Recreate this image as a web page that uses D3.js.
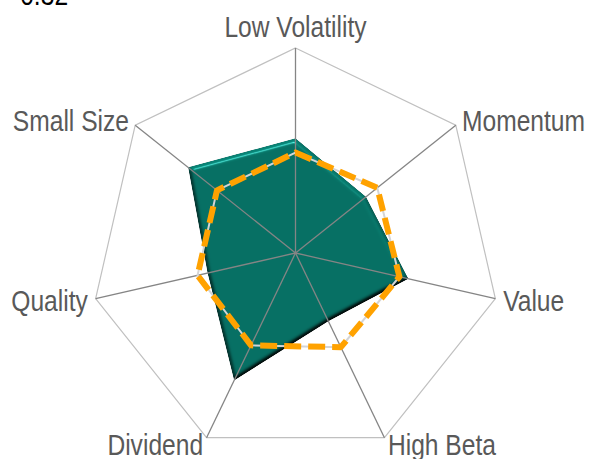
<!DOCTYPE html>
<html>
<head>
<meta charset="utf-8">
<script src="https://cdn.jsdelivr.net/npm/d3@7"></script>
<style>
  body { margin: 0; background: #fff; }
  svg { display: block; }
  .lbl { font-family: "Liberation Sans", Arial, sans-serif; font-size: 30px; fill: #595959; }
</style>
</head>
<body>
<div id="chart"></div>
<script>
// factor axes, clockwise from the top
var factors = ["Low Volatility", "Momentum", "Value", "High Beta", "Dividend", "Quality", "Small Size"];
// portfolio exposure (green area)
var portfolio = [0.56, 0.44, 0.565, 0.37, 0.69, 0.44, 0.67];
// benchmark exposure (orange dashed)
var benchmark = [0.49, 0.51, 0.52, 0.51, 0.50, 0.49, 0.49];
var titleText = "= 0.32";

var width = 592, height = 459;
var cx = 295.5, cy = 253, R = 205;
var squeeze = 0.82;   // narrow lettering like the original

var svg = d3.select("#chart")
  .append("svg")
    .attr("width", width)
    .attr("height", height);

// bevel look for the filled area
var defs = svg.append("defs");
var f = defs.append("filter").attr("id", "bevel")
    .attr("color-interpolation-filters", "sRGB")
    .attr("x", "-5%").attr("y", "-5%").attr("width", "110%").attr("height", "110%");
f.append("feGaussianBlur").attr("in", "SourceAlpha").attr("stdDeviation", 2.2).attr("result", "blur");
f.append("feDiffuseLighting").attr("in", "blur").attr("surfaceScale", 4)
    .attr("diffuseConstant", 1).attr("lighting-color", "#fff").attr("result", "diff")
  .append("feDistantLight").attr("azimuth", 270).attr("elevation", 55);
f.append("feComposite").attr("in", "SourceGraphic").attr("in2", "diff")
    .attr("operator", "arithmetic").attr("k1", 1.22).attr("k2", 0).attr("k3", 0).attr("k4", 0)
    .attr("result", "shaded");
f.append("feSpecularLighting").attr("in", "blur").attr("surfaceScale", 4)
    .attr("specularConstant", 0.7).attr("specularExponent", 60)
    .attr("lighting-color", "#bff").attr("result", "spec")
  .append("feDistantLight").attr("azimuth", 270).attr("elevation", 40);
f.append("feComposite").attr("in", "spec").attr("in2", "SourceAlpha").attr("operator", "in").attr("result", "specIn");
f.append("feComposite").attr("in", "shaded").attr("in2", "specIn")
    .attr("operator", "arithmetic").attr("k1", 0).attr("k2", 1).attr("k3", 0.6).attr("k4", 0)
    .attr("result", "lit");
f.append("feComposite").attr("in", "lit").attr("in2", "SourceAlpha").attr("operator", "in");

var angle = d3.scalePoint()
    .domain(factors)
    .range([0, 2 * Math.PI * (factors.length - 1) / factors.length]);
var r = d3.scaleLinear().domain([0, 1]).range([0, R]);

function pt(f, v) {
  var a = angle(f);
  return [cx + Math.sin(a) * r(v), cy - Math.cos(a) * r(v)];
}

var line = d3.line().curve(d3.curveLinearClosed);

// outer web
svg.append("path")
  .attr("d", line(factors.map(function(f) { return pt(f, 1); })))
  .attr("fill", "none")
  .attr("stroke", "#c0c0c0")
  .attr("stroke-width", 1.2);

// portfolio area
svg.append("path")
  .attr("d", line(factors.map(function(f, i) { return pt(f, portfolio[i]); })))
  .attr("fill", "#077064")
  .attr("filter", "url(#bevel)");

// spokes
svg.append("g").selectAll("line")
  .data(factors)
  .enter().append("line")
    .attr("x1", cx).attr("y1", cy)
    .attr("x2", function(d) { return pt(d, 1)[0]; })
    .attr("y2", function(d) { return pt(d, 1)[1]; })
    .attr("stroke", "#858585")
    .attr("stroke-width", 1.3);

// benchmark line: thin grey under orange dashes
var bpts = factors.map(function(f, i) { return pt(f, benchmark[i]); });
svg.append("path")
  .attr("d", line(bpts))
  .attr("fill", "none")
  .attr("stroke", "#d4d4d4")
  .attr("stroke-width", 2);
svg.append("path")
  .attr("d", line(bpts))
  .attr("fill", "none")
  .attr("stroke", "#ffa200")
  .attr("stroke-width", 6)
  .attr("stroke-dasharray", "17,7")
  .attr("stroke-linejoin", "round");

// axis labels
svg.append("g").selectAll("text")
  .data(factors)
  .enter().append("text")
    .attr("class", "lbl")
    .attr("transform", function(d) {
      var p = pt(d, 1 + 8 / R);
      return "translate(" + p[0] + "," + p[1] + ") scale(" + squeeze + ",1)";
    })
    .attr("dy", function(d) {
      return Math.cos(angle(d)) > 0.9 ? -3 : 10.5;
    })
    .attr("text-anchor", function(d) {
      var s = Math.sin(angle(d));
      return Math.abs(s) < 0.01 ? "middle" : (s > 0 ? "start" : "end");
    })
    .text(function(d) { return d; });

// clipped title remnant
svg.append("text")
  .attr("class", "lbl")
  .attr("transform", "translate(-1,5) scale(" + squeeze + ",1)")
  .style("fill", "#000")
  .text(titleText);
</script>
</body>
</html>
